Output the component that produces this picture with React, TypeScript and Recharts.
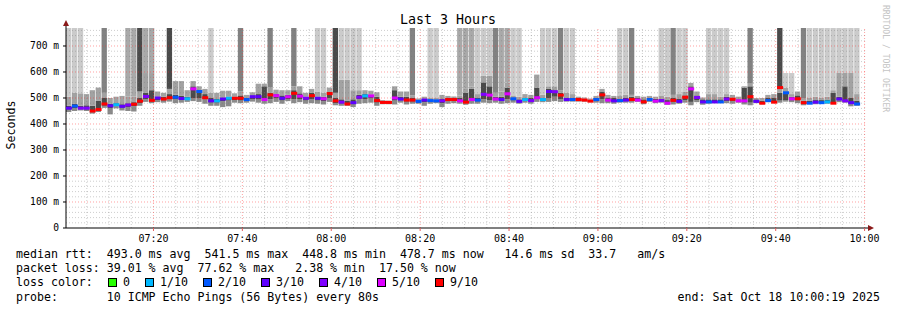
import React from 'react';
import { ComposedChart, Bar, Scatter, XAxis, YAxis, ReferenceLine, Cell } from 'recharts';

// ---- time frame (seconds since midnight) ----
const START = 7 * 3600 + 19; // 07:00:19
const END = START + 10800;   // 10:00:19
const STEP = 80;

// ---- loss colours / labels ----
const lossColors = ['#26ff00', '#00b8ff', '#0059ff', '#5e00ff', '#7e00ff', '#dd00ff', '#ff0000'];
const lossLabels = ['0', '1/10', '2/10', '3/10', '4/10', '5/10', '9/10'];

// ---- median rtt per step (ms) ----
const median = [
  461, 469, 461, 461, 450, 456, 477, 470, 474, 468,
  473, 476, 488, 506, 491, 500, 496, 501, 503, 498,
  497, 535, 525, 501, 489, 489, 496, 499, 499, 499,
  494, 505, 505, 494, 512, 509, 499, 505, 518, 507,
  499, 509, 499, 497, 517, 489, 484, 477, 482, 503,
  508, 508, 490, 483, 483, 500, 496, 492, 492, 487,
  492, 490, 489, 489, 494, 494, 489, 484, 494, 492,
  514, 511, 496, 494, 516, 497, 487, 494, 490, 501,
  494, 525, 524, 511, 494, 494, 494, 492, 488, 494,
  512, 492, 489, 490, 492, 494, 492, 485, 494, 488,
  490, 480, 491, 487, 503, 535, 502, 485, 485, 485,
  485, 496, 495, 489, 489, 505, 487, 480, 490, 484,
  540, 520, 497, 497, 482, 480, 484, 482, 485, 480,
  496, 489, 482, 477, null,
];

// ---- loss class per step (index into lossColors) ----
const lossIdx = [
  3, 2, 4, 4, 6, 6, 6, 3, 1, 3,
  4, 6, 6, 4, 6, 3, 6, 6, 2, 3,
  1, 5, 2, 6, 3, 1, 3, 1, 6, 6,
  2, 3, 3, 5, 6, 5, 3, 5, 6, 5,
  4, 6, 3, 5, 6, 6, 4, 6, 3, 4,
  1, 5, 6, 6, 6, 5, 3, 6, 6, 2,
  3, 2, 2, 4, 6, 6, 5, 6, 5, 2,
  4, 5, 5, 3, 5, 2, 3, 1, 4, 5,
  1, 3, 4, 6, 3, 2, 6, 6, 6, 2,
  6, 5, 3, 2, 3, 6, 5, 6, 2, 5,
  4, 5, 6, 3, 6, 5, 4, 3, 2, 3,
  2, 4, 6, 5, 5, 6, 3, 6, 2, 6,
  6, 2, 5, 6, 6, 2, 3, 2, 1, 6,
  3, 4, 3, 2, null,
];

// ---- smoke: lowest ping, dark core low/high, highest in-cluster ping ----
const lowPing = [
  446, 450, 452, 450, 440, 446, 462, 437, 460, 452,
  450, 448, 470, 485, 480, 484, 482, 486, 480, 482,
  485, 488, 485, 478, 470, 470, 465, 468, 482, 480,
  482, 486, 482, 478, 480, 485, 478, 488, 480, 484,
  478, 480, 478, 475, 485, 472, 470, 470, 465, 478,
  480, 482, 470, 476, 476, 475, 482, 475, 478, 478,
  470, 478, 480, 465, 478, 480, 478, 474, 478, 478,
  482, 480, 482, 478, 480, 482, 478, 482, 478, 485,
  484, 485, 488, 485, 486, 486, 486, 486, 484, 482,
  480, 480, 478, 482, 482, 482, 485, 476, 485, 480,
  482, 474, 475, 478, 482, 472, 484, 474, 478, 480,
  480, 480, 478, 482, 475, 472, 480, 476, 484, 482,
  482, 486, 484, 480, 472, 478, 476, 478, 478, 478,
  484, 482, 468, 470, null,
];
const coreLow = [
  455, 460, 456, 455, 448, 452, 470, 460, 468, 462,
  465, 468, 480, 495, 488, 492, 490, 495, 496, 492,
  492, 500, 500, 495, 482, 482, 488, 490, 492, 490,
  488, 496, 494, 488, 495, 498, 490, 496, 495, 496,
  490, 496, 490, 488, 500, 480, 478, 474, 475, 495,
  496, 498, 482, 479, 479, 490, 490, 486, 486, 482,
  484, 484, 484, 480, 488, 488, 484, 480, 490, 486,
  495, 492, 490, 488, 495, 490, 482, 490, 486, 495,
  488, 500, 505, 495, 490, 490, 490, 489, 486, 489,
  496, 486, 485, 486, 487, 488, 488, 482, 490, 485,
  486, 478, 485, 483, 492, 485, 492, 480, 482, 482,
  483, 488, 488, 486, 482, 482, 484, 478, 486, 484,
  490, 492, 490, 490, 478, 480, 482, 480, 483, 484,
  492, 488, 480, 476, null,
];
const coreHigh = [
  470, 478, 470, 472, 470, 490, 500, 478, 480, 476,
  480, 484, 500, 520, 530, 505, 505, 515, 512, 508,
  505, 545, 530, 515, 500, 496, 502, 505, 505, 510,
  500, 510, 515, 545, 520, 515, 510, 512, 530, 518,
  505, 520, 505, 505, 525, 500, 495, 490, 495, 512,
  515, 512, 505, 488, 487, 530, 505, 505, 500, 492,
  498, 494, 494, 496, 500, 500, 500, 520, 535, 500,
  560, 545, 505, 505, 540, 502, 495, 500, 500, 540,
  500, 535, 530, 520, 502, 500, 500, 497, 493, 500,
  525, 502, 500, 498, 500, 505, 500, 495, 500, 497,
  498, 492, 500, 498, 510, 545, 510, 495, 495, 495,
  495, 505, 502, 495, 540, 545, 495, 490, 500, 500,
  520, 525, 505, 510, 490, 490, 492, 492, 494, 520,
  505, 545, 500, 490, null,
];
const highPing = [
  505, 520, 518, 515, 530, 540, 520, 500, 505, 508,
  505, 505, 525, 596, 596, 525, 520, 535, 565, 565,
  530, 565, 545, 535, 520, 520, 528, 528, 518, 525,
  512, 522, 555, 555, 540, 532, 530, 530, 545, 545,
  520, 535, 525, 520, 540, 520, 570, 570, 530, 530,
  530, 528, 522, 492, 490, 545, 525, 525, 510, 498,
  505, 500, 500, 512, 508, 506, 510, 535, 545, 515,
  585, 585, 520, 525, 560, 510, 505, 515, 512, 590,
  512, 545, 545, 530, 520, 515, 505, 502, 498, 508,
  535, 512, 508, 510, 512, 512, 508, 505, 508, 505,
  510, 505, 512, 515, 525, 558, 525, 502, 515, 515,
  505, 515, 512, 505, 545, 555, 500, 500, 512, 515,
  535, 540, 515, 525, 500, 500, 505, 500, 505, 530,
  598, 598, 598, 515, null,
];
// ---- outlier pings reaching above the cluster (0 = none) and their shade ----
const spikeTop = [
  800, 800, 800, 0, 0, 0, 800, 0, 0, 0,
  800, 800, 800, 800, 800, 0, 0, 800, 0, 0,
  0, 0, 0, 0, 800, 0, 0, 0, 0, 800,
  0, 0, 0, 0, 800, 0, 0, 0, 800, 0,
  0, 0, 800, 800, 0, 800, 800, 800, 800, 800,
  0, 0, 0, 0, 0, 0, 0, 0, 800, 0,
  0, 800, 800, 0, 0, 0, 800, 800, 800, 800,
  800, 800, 800, 800, 800, 800, 800, 0, 0, 0,
  800, 800, 800, 800, 800, 800, 0, 0, 0, 0,
  0, 0, 0, 800, 800, 800, 0, 0, 0, 0,
  800, 800, 800, 800, 800, 0, 0, 0, 800, 800,
  800, 800, 0, 0, 0, 800, 0, 0, 0, 0,
  800, 596, 596, 0, 800, 800, 800, 800, 800, 800,
  800, 800, 800, 800, 0,
];
const spikeShade = [
  1, 1, 1, 0, 0, 0, 3, 0, 0, 0,
  2, 2, 4, 2, 2, 0, 0, 4, 0, 0,
  0, 0, 0, 0, 1, 0, 0, 0, 0, 3,
  0, 0, 0, 0, 3, 0, 0, 0, 3, 0,
  0, 0, 1, 1, 0, 4, 1, 1, 1, 1,
  0, 0, 0, 0, 0, 0, 0, 0, 3, 0,
  0, 1, 1, 0, 0, 0, 2, 2, 2, 1,
  1, 1, 3, 2, 2, 1, 1, 0, 0, 0,
  1, 1, 1, 3, 1, 1, 0, 0, 0, 0,
  0, 0, 0, 1, 1, 3, 0, 0, 0, 0,
  1, 1, 3, 1, 1, 0, 0, 0, 1, 1,
  1, 1, 0, 0, 0, 3, 0, 0, 0, 0,
  4, 1, 1, 0, 3, 1, 1, 1, 1, 1,
  1, 1, 1, 1, 0,
];
const shadeColors = ['transparent', '#cbcbcb', '#a9a9a9', '#828282', '#4a4a4a'];

// ---- axis ticks ----
const xTicks = [26400, 27600, 28800, 30000, 31200, 32400, 33600, 34800, 36000];
const yTicks = [0, 100, 200, 300, 400, 500, 600, 700];
const Y_MAX = 769.2;

// ---- legend text ----
const statLines = [
  'median rtt:  493.0 ms avg  541.5 ms max  448.8 ms min  478.7 ms now   14.6 ms sd  33.7   am/s',
  'packet loss: 39.01 % avg  77.62 % max   2.38 % min  17.50 % now',
];
const probeLine = 'probe:       10 ICMP Echo Pings (56 Bytes) every 80s';
const endLine = 'end: Sat Oct 18 10:00:19 2025';
const title = 'Last 3 Hours';
const yLabel = 'Seconds';
const tag = 'RRDTOOL / TOBI OETIKER';

const FONT = '"DejaVu Sans Mono", monospace';

const rows = median.map((m, i) => {
  const has = lowPing[i] != null;
  const top = spikeTop[i];
  return {
    t: START + STEP * i + STEP / 2,
    base: has ? lowPing[i] : 0,
    s1: has ? coreLow[i] - lowPing[i] : 0,
    s2: has ? coreHigh[i] - coreLow[i] : 0,
    s3: has ? highPing[i] - coreHigh[i] : 0,
    s4: has && top ? top - highPing[i] : 0,
    shade: spikeShade[i],
    med: m,
    loss: lossIdx[i],
  };
});
const medRows = rows.filter((r) => r.med != null);

const minorY: number[] = [];
for (let v = 20; v < Y_MAX; v += 20) if (v % 100 !== 0) minorY.push(v);
const majorY = yTicks.filter((v) => v > 0);
const minorX: number[] = [];
for (let t = 7 * 3600 + 300; t < END; t += 300) if (t % 1200 !== 0) minorX.push(t);

const fmtTime = (t: number) => {
  const h = Math.floor(t / 3600);
  const m = Math.floor((t % 3600) / 60);
  return `${String(h).padStart(2, '0')}:${String(m).padStart(2, '0')}`;
};

const MedianMark = (props: any) => {
  const { cx, cy, payload } = props;
  if (cx == null || cy == null) return null;
  return <rect x={cx - 3} y={cy - 1.5} width={6} height={3} fill={lossColors[payload.loss]} />;
};

export default function App() {
  const CH = 7.0;
  let lx = 108;
  const legendItems = lossLabels.map((lab, i) => {
    const x = lx;
    lx += 15 + lab.length * CH + 15;
    return { x, lab, color: lossColors[i] };
  });
  return (
    <div style={{ position: 'absolute', left: 0, top: 0, width: 897, height: 310, background: '#fff' }}>
      <ComposedChart
        width={897}
        height={310}
        data={rows}
        margin={{ top: 28, right: 31, bottom: 62, left: 16 }}
        barGap={0}
        barCategoryGap={0}
      >
        <XAxis
          dataKey="t"
          type="number"
          domain={[START, END]}
          ticks={xTicks}
          tickFormatter={fmtTime}
          height={20}
          tickSize={3}
          tickMargin={4}
          interval={0}
          axisLine={{ stroke: '#000' }}
          tickLine={{ stroke: '#e06060' }}
          tick={{ fontSize: 10, fill: '#000', fontFamily: FONT }}
        />
        <YAxis
          type="number"
          domain={[0, Y_MAX]}
          allowDataOverflow
          ticks={yTicks}
          interval={0}
          width={50}
          tickSize={3}
          tickMargin={4}
          tickFormatter={(v: number) => (v === 0 ? '0' : `${v} m`)}
          axisLine={{ stroke: '#000' }}
          tickLine={{ stroke: '#000' }}
          tick={{ fontSize: 9.6, fill: '#000', fontFamily: FONT }}
        />
        <Bar dataKey="base" stackId="smoke" fill="transparent" barSize={6} isAnimationActive={false} />
        <Bar dataKey="s1" stackId="smoke" fill="#8a8a8a" barSize={6} isAnimationActive={false} />
        <Bar dataKey="s2" stackId="smoke" fill="#4a4a4a" barSize={6} isAnimationActive={false} />
        <Bar dataKey="s3" stackId="smoke" fill="#a2a2a2" barSize={6} isAnimationActive={false} />
        <Bar dataKey="s4" stackId="smoke" barSize={6} isAnimationActive={false}>
          {rows.map((r, i) => (
            <Cell key={i} fill={shadeColors[r.shade]} />
          ))}
        </Bar>
        <Scatter data={medRows} dataKey="med" shape={MedianMark} isAnimationActive={false} />
        {minorY.map((v) => (
          <ReferenceLine key={'my' + v} y={v} stroke="#707070" strokeDasharray="1 2" strokeOpacity={0.35} />
        ))}
        {minorX.map((t) => (
          <ReferenceLine key={'mx' + t} x={t} stroke="#707070" strokeDasharray="1 2" strokeOpacity={0.35} />
        ))}
        {majorY.map((v) => (
          <ReferenceLine key={'My' + v} y={v} stroke="#ff3030" strokeDasharray="1 2" strokeOpacity={0.45} />
        ))}
        {xTicks.map((t) => (
          <ReferenceLine key={'Mx' + t} x={t} stroke="#ff3030" strokeDasharray="1 2" strokeOpacity={0.45} />
        ))}
      </ComposedChart>
      <svg
        width={897}
        height={310}
        style={{ position: 'absolute', left: 0, top: 0, pointerEvents: 'none' }}
        fontFamily={FONT}
      >
        <text x={448} y={24} textAnchor="middle" fontSize={13.3} fill="#000">{title}</text>
        <text
          transform="translate(15,125) rotate(-90)"
          textAnchor="middle"
          fontSize={11.6}
          fill="#000"
        >
          {yLabel}
        </text>
        <text transform="translate(883,5) rotate(90)" fontSize={8.1} fill="#c4c4c4">{tag}</text>
        <line x1={866} y1={228} x2={869} y2={228} stroke="#000" />
        <line x1={66} y1={28} x2={66} y2={25} stroke="#000" />
        <polygon points="63,26 69,26 66,20" fill="#8b1a1a" />
        <polygon points="868,225 868,231 874,228" fill="#8b1a1a" />
        {statLines.map((s, i) => (
          <text key={i} x={16} y={258 + i * 14.2} fontSize={11.6} fill="#000" xmlSpace="preserve" style={{ whiteSpace: 'pre' }}>
            {s}
          </text>
        ))}
        <text x={16} y={286.4} fontSize={11.6} fill="#000">loss color:</text>
        {legendItems.map((it) => (
          <g key={it.lab}>
            <rect x={it.x + 0.5} y={278.5} width={8} height={8} fill={it.color} stroke="#000" strokeWidth={1} />
            <text x={it.x + 15} y={286.4} fontSize={11.6} fill="#000">{it.lab}</text>
          </g>
        ))}
        <text x={16} y={300.6} fontSize={11.6} fill="#000" xmlSpace="preserve" style={{ whiteSpace: 'pre' }}>
          {probeLine}
        </text>
        <text x={880} y={300.6} fontSize={11.6} fill="#000" textAnchor="end">{endLine}</text>
      </svg>
    </div>
  );
}
